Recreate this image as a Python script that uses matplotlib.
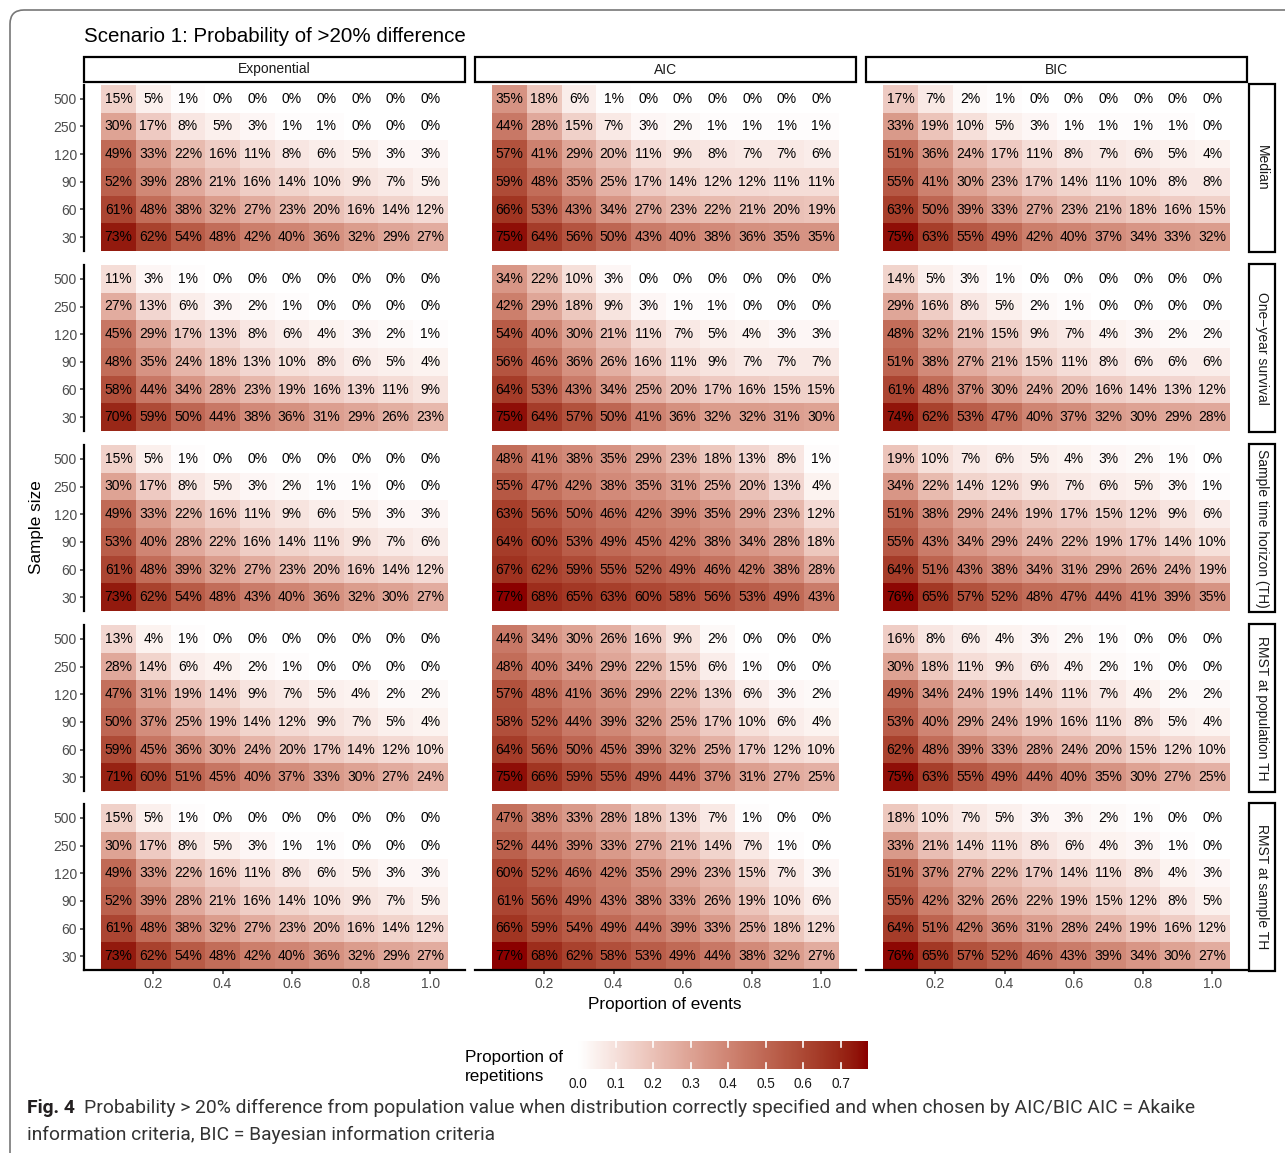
import numpy as np
import matplotlib.pyplot as plt
from matplotlib.colors import ListedColormap, Normalize
from matplotlib.patches import Rectangle, FancyBboxPatch
from matplotlib.transforms import IdentityTransform

plt.rcParams['font.family'] = ['Liberation Sans', 'DejaVu Sans']

# sample sizes, listed top row first
sizes = ['500', '250', '120', '90', '60', '30']
props = [0.1, 0.2, 0.3, 0.4, 0.5, 0.6, 0.7, 0.8, 0.9, 1.0]
methods = ['Exponential', 'AIC', 'BIC']
measures = ['Median', 'One\u2212year survival', 'Sample time horizon (TH)',
            'RMST at population TH', 'RMST at sample TH']

median_exp = [[15, 5, 1, 0, 0, 0, 0, 0, 0, 0],
              [30, 17, 8, 5, 3, 1, 1, 0, 0, 0],
              [49, 33, 22, 16, 11, 8, 6, 5, 3, 3],
              [52, 39, 28, 21, 16, 14, 10, 9, 7, 5],
              [61, 48, 38, 32, 27, 23, 20, 16, 14, 12],
              [73, 62, 54, 48, 42, 40, 36, 32, 29, 27]]
median_aic = [[35, 18, 6, 1, 0, 0, 0, 0, 0, 0],
              [44, 28, 15, 7, 3, 2, 1, 1, 1, 1],
              [57, 41, 29, 20, 11, 9, 8, 7, 7, 6],
              [59, 48, 35, 25, 17, 14, 12, 12, 11, 11],
              [66, 53, 43, 34, 27, 23, 22, 21, 20, 19],
              [75, 64, 56, 50, 43, 40, 38, 36, 35, 35]]
median_bic = [[17, 7, 2, 1, 0, 0, 0, 0, 0, 0],
              [33, 19, 10, 5, 3, 1, 1, 1, 1, 0],
              [51, 36, 24, 17, 11, 8, 7, 6, 5, 4],
              [55, 41, 30, 23, 17, 14, 11, 10, 8, 8],
              [63, 50, 39, 33, 27, 23, 21, 18, 16, 15],
              [75, 63, 55, 49, 42, 40, 37, 34, 33, 32]]

surv_exp = [[11, 3, 1, 0, 0, 0, 0, 0, 0, 0],
            [27, 13, 6, 3, 2, 1, 0, 0, 0, 0],
            [45, 29, 17, 13, 8, 6, 4, 3, 2, 1],
            [48, 35, 24, 18, 13, 10, 8, 6, 5, 4],
            [58, 44, 34, 28, 23, 19, 16, 13, 11, 9],
            [70, 59, 50, 44, 38, 36, 31, 29, 26, 23]]
surv_aic = [[34, 22, 10, 3, 0, 0, 0, 0, 0, 0],
            [42, 29, 18, 9, 3, 1, 1, 0, 0, 0],
            [54, 40, 30, 21, 11, 7, 5, 4, 3, 3],
            [56, 46, 36, 26, 16, 11, 9, 7, 7, 7],
            [64, 53, 43, 34, 25, 20, 17, 16, 15, 15],
            [75, 64, 57, 50, 41, 36, 32, 32, 31, 30]]
surv_bic = [[14, 5, 3, 1, 0, 0, 0, 0, 0, 0],
            [29, 16, 8, 5, 2, 1, 0, 0, 0, 0],
            [48, 32, 21, 15, 9, 7, 4, 3, 2, 2],
            [51, 38, 27, 21, 15, 11, 8, 6, 6, 6],
            [61, 48, 37, 30, 24, 20, 16, 14, 13, 12],
            [74, 62, 53, 47, 40, 37, 32, 30, 29, 28]]

th_exp = [[15, 5, 1, 0, 0, 0, 0, 0, 0, 0],
          [30, 17, 8, 5, 3, 2, 1, 1, 0, 0],
          [49, 33, 22, 16, 11, 9, 6, 5, 3, 3],
          [53, 40, 28, 22, 16, 14, 11, 9, 7, 6],
          [61, 48, 39, 32, 27, 23, 20, 16, 14, 12],
          [73, 62, 54, 48, 43, 40, 36, 32, 30, 27]]
th_aic = [[48, 41, 38, 35, 29, 23, 18, 13, 8, 1],
          [55, 47, 42, 38, 35, 31, 25, 20, 13, 4],
          [63, 56, 50, 46, 42, 39, 35, 29, 23, 12],
          [64, 60, 53, 49, 45, 42, 38, 34, 28, 18],
          [67, 62, 59, 55, 52, 49, 46, 42, 38, 28],
          [77, 68, 65, 63, 60, 58, 56, 53, 49, 43]]
th_bic = [[19, 10, 7, 6, 5, 4, 3, 2, 1, 0],
          [34, 22, 14, 12, 9, 7, 6, 5, 3, 1],
          [51, 38, 29, 24, 19, 17, 15, 12, 9, 6],
          [55, 43, 34, 29, 24, 22, 19, 17, 14, 10],
          [64, 51, 43, 38, 34, 31, 29, 26, 24, 19],
          [76, 65, 57, 52, 48, 47, 44, 41, 39, 35]]

rmst_pop_exp = [[13, 4, 1, 0, 0, 0, 0, 0, 0, 0],
                [28, 14, 6, 4, 2, 1, 0, 0, 0, 0],
                [47, 31, 19, 14, 9, 7, 5, 4, 2, 2],
                [50, 37, 25, 19, 14, 12, 9, 7, 5, 4],
                [59, 45, 36, 30, 24, 20, 17, 14, 12, 10],
                [71, 60, 51, 45, 40, 37, 33, 30, 27, 24]]
rmst_pop_aic = [[44, 34, 30, 26, 16, 9, 2, 0, 0, 0],
                [48, 40, 34, 29, 22, 15, 6, 1, 0, 0],
                [57, 48, 41, 36, 29, 22, 13, 6, 3, 2],
                [58, 52, 44, 39, 32, 25, 17, 10, 6, 4],
                [64, 56, 50, 45, 39, 32, 25, 17, 12, 10],
                [75, 66, 59, 55, 49, 44, 37, 31, 27, 25]]
rmst_pop_bic = [[16, 8, 6, 4, 3, 2, 1, 0, 0, 0],
                [30, 18, 11, 9, 6, 4, 2, 1, 0, 0],
                [49, 34, 24, 19, 14, 11, 7, 4, 2, 2],
                [53, 40, 29, 24, 19, 16, 11, 8, 5, 4],
                [62, 48, 39, 33, 28, 24, 20, 15, 12, 10],
                [75, 63, 55, 49, 44, 40, 35, 30, 27, 25]]

rmst_smp_exp = [[15, 5, 1, 0, 0, 0, 0, 0, 0, 0],
                [30, 17, 8, 5, 3, 1, 1, 0, 0, 0],
                [49, 33, 22, 16, 11, 8, 6, 5, 3, 3],
                [52, 39, 28, 21, 16, 14, 10, 9, 7, 5],
                [61, 48, 38, 32, 27, 23, 20, 16, 14, 12],
                [73, 62, 54, 48, 42, 40, 36, 32, 29, 27]]
rmst_smp_aic = [[47, 38, 33, 28, 18, 13, 7, 1, 0, 0],
                [52, 44, 39, 33, 27, 21, 14, 7, 1, 0],
                [60, 52, 46, 42, 35, 29, 23, 15, 7, 3],
                [61, 56, 49, 43, 38, 33, 26, 19, 10, 6],
                [66, 59, 54, 49, 44, 39, 33, 25, 18, 12],
                [77, 68, 62, 58, 53, 49, 44, 38, 32, 27]]
rmst_smp_bic = [[18, 10, 7, 5, 3, 3, 2, 1, 0, 0],
                [33, 21, 14, 11, 8, 6, 4, 3, 1, 0],
                [51, 37, 27, 22, 17, 14, 11, 8, 4, 3],
                [55, 42, 32, 26, 22, 19, 15, 12, 8, 5],
                [64, 51, 42, 36, 31, 28, 24, 19, 16, 12],
                [76, 65, 57, 52, 46, 43, 39, 34, 30, 27]]

grid = [[median_exp, median_aic, median_bic],
        [surv_exp, surv_aic, surv_bic],
        [th_exp, th_aic, th_bic],
        [rmst_pop_exp, rmst_pop_aic, rmst_pop_bic],
        [rmst_smp_exp, rmst_smp_aic, rmst_smp_bic]]


# white -> darkred ramp interpolated in CIELAB
def srgb_to_lab(rgb):
    c = np.asarray(rgb, float)
    lin = np.where(c <= 0.04045, c / 12.92, ((c + 0.055) / 1.055) ** 2.4)
    m = np.array([[0.4124, 0.3576, 0.1805],
                  [0.2126, 0.7152, 0.0722],
                  [0.0193, 0.1192, 0.9505]])
    xyz = m @ lin / np.array([0.95047, 1.0, 1.08883])
    f = np.where(xyz > 0.008856, np.cbrt(xyz), 7.787 * xyz + 16 / 116)
    return np.array([116 * f[1] - 16, 500 * (f[0] - f[1]), 200 * (f[1] - f[2])])


def lab_to_srgb(lab):
    L, a, b = lab
    fy = (L + 16) / 116
    f = np.array([fy + a / 500, fy, fy - b / 200])
    xyz = np.where(f ** 3 > 0.008856, f ** 3, (f - 16 / 116) / 7.787)
    xyz = xyz * np.array([0.95047, 1.0, 1.08883])
    minv = np.array([[3.2406, -1.5372, -0.4986],
                     [-0.9689, 1.8758, 0.0415],
                     [0.0557, -0.2040, 1.0570]])
    lin = np.clip(minv @ xyz, 0, 1)
    c = np.where(lin <= 0.0031308, 12.92 * lin, 1.055 * lin ** (1 / 2.4) - 0.055)
    return np.clip(c, 0, 1)


lo = srgb_to_lab([1, 1, 1])
hi = srgb_to_lab([139 / 255, 0, 0])
cmap = ListedColormap([lab_to_srgb(lo + t * (hi - lo)) for t in np.linspace(0, 1, 256)])
vmax = max(max(max(r) for r in p) for row in grid for p in row) / 100
norm = Normalize(0, vmax)

W, H = 1285, 1153
fig = plt.figure(figsize=(W / 100, H / 100), dpi=100)


def box(x0, y0, x1, y1):
    return [x0 / W, 1 - y1 / H, (x1 - x0) / W, (y1 - y0) / H]


col_left = [84, 475, 866]
col_w = 381
row_top = [85, 265, 445, 625, 804]
row_h = 166
x_edges = np.arange(11) * 0.1 + 0.05
y_edges = np.arange(7) - 0.5
axis_grey = '#4D4D4D'

for r in range(5):
    for c in range(3):
        ax = fig.add_axes(box(col_left[c], row_top[r], col_left[c] + col_w, row_top[r] + row_h))
        vals = np.array(grid[r][c])[::-1]
        ax.pcolormesh(x_edges, y_edges, vals / 100, cmap=cmap, norm=norm)
        for i in range(6):
            for j in range(10):
                ax.text(props[j], i, f'{vals[i, j]}%', ha='center', va='center',
                        fontsize=10, color='black')
        ax.set_xlim(0, 1.1)
        ax.set_ylim(-0.5, 5.5)
        for s in ax.spines.values():
            s.set_visible(False)
        ax.tick_params(length=3, width=1.1, color='#333333', labelcolor=axis_grey,
                       labelsize=10, pad=2)
        if c == 0:
            ax.spines['left'].set_visible(True)
            ax.spines['left'].set_linewidth(1.6)
            ax.set_yticks(range(6), sizes[::-1])
        else:
            ax.set_yticks([])
        if r == 4:
            ax.spines['bottom'].set_visible(True)
            ax.spines['bottom'].set_linewidth(1.6)
            ax.set_xticks([0.2, 0.4, 0.6, 0.8, 1.0], ['0.2', '0.4', '0.6', '0.8', '1.0'])
        else:
            ax.set_xticks([])

# facet strips
for c, name in enumerate(methods):
    b = box(col_left[c], 57, col_left[c] + col_w, 82)
    fig.add_artist(Rectangle((b[0], b[1]), b[2], b[3], transform=fig.transFigure,
                             facecolor='white', edgecolor='black', lw=1.6))
    fig.text(b[0] + b[2] / 2, b[1] + b[3] / 2, name, ha='center', va='center',
             fontsize=10, color='#1A1A1A')
for r, name in enumerate(measures):
    b = box(1249, row_top[r] - 1, 1275, row_top[r] + row_h + 1)
    fig.add_artist(Rectangle((b[0], b[1]), b[2], b[3], transform=fig.transFigure,
                             facecolor='white', edgecolor='black', lw=1.6))
    fig.text(b[0] + b[2] / 2, b[1] + b[3] / 2, name, ha='center', va='center',
             fontsize=10, color='#1A1A1A', rotation=-90)

fig.text(84 / W, 1 - 36 / H, 'Scenario 1: Probability of >20% difference',
         ha='left', va='center', fontsize=14.8)
fig.text(665 / W, 1 - 1005 / H, 'Proportion of events', ha='center', va='center',
         fontsize=12.3)
fig.text(37 / W, 1 - 527 / H, 'Sample size', ha='center', va='center',
         fontsize=12.3, rotation=90)

# colour bar
cax = fig.add_axes(box(578, 1041, 867, 1069))
cax.imshow(np.linspace(0, vmax, 300)[None, :], extent=[0, vmax, 0, 1], aspect='auto',
           cmap=cmap, norm=norm)
cb_ticks = [0.0, 0.1, 0.2, 0.3, 0.4, 0.5, 0.6, 0.7]
for t in cb_ticks[1:]:
    cax.plot([t, t], [0, 0.2], color='white', lw=1.2)
    cax.plot([t, t], [0.8, 1], color='white', lw=1.2)
cax.set_xlim(0, vmax)
cax.set_ylim(0, 1)
cax.set_yticks([])
cax.set_xticks(cb_ticks, [f'{t:.1f}' for t in cb_ticks])
cax.tick_params(length=0, labelsize=9.8, labelcolor='#1A1A1A', pad=6)
for s in cax.spines.values():
    s.set_visible(False)
fig.text(465 / W, 1 - 1067 / H, 'Proportion of\nrepetitions', ha='left', va='center',
         fontsize=12.3, linespacing=1.3)

# page frame and caption
fig.add_artist(FancyBboxPatch((10, -30), 1320, H - 10 + 30,
                              boxstyle='round,pad=0,rounding_size=14',
                              transform=IdentityTransform(), facecolor='none',
                              edgecolor='#777777', lw=1.2))
cap_font = ['Roboto', 'DejaVu Sans']
cap_color = '#333333'
cap_line1 = ('Probability > 20% difference from population value when distribution correctly '
             'specified and when chosen by AIC/BIC AIC = Akaike')
cap_line2 = 'information criteria, BIC = Bayesian information criteria'
fig_lbl = fig.text(27 / W, 1 - 1108 / H, 'Fig. 4', ha='left', va='center', fontsize=13,
                   fontweight='bold', family=cap_font, color='#231F20')
cap1 = fig.text(87 / W, 1 - 1108 / H, cap_line1, ha='left', va='center', fontsize=13,
                family=cap_font, color=cap_color)
cap2 = fig.text(27 / W, 1 - 1135 / H, cap_line2, ha='left', va='center', fontsize=13,
                family=cap_font, color=cap_color)

# shrink the caption font so the first line ends where the frame text block ends
renderer = fig.canvas.get_renderer()
for _ in range(3):
    w_lbl = fig_lbl.get_window_extent(renderer).width
    w_cap = cap1.get_window_extent(renderer).width
    size = cap1.get_fontsize() * (1197 - 27 - w_lbl - 9) / w_cap
    for t in (fig_lbl, cap1, cap2):
        t.set_fontsize(size)
    w_lbl = fig_lbl.get_window_extent(renderer).width
    cap1.set_x((27 + w_lbl + 9) / W)

fig.savefig('out.png', dpi=100)
